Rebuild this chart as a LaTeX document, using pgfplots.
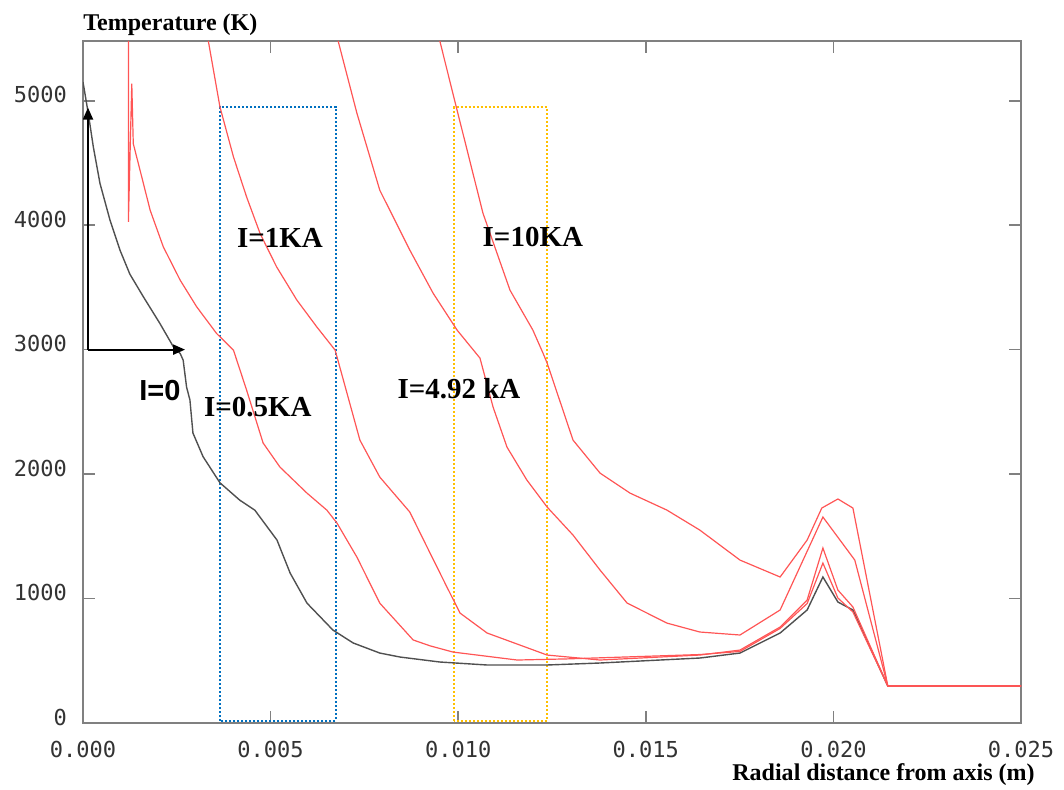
\documentclass[border=0pt]{standalone}
\usepackage{pgfplots}
\pgfplotsset{compat=1.18}
\usepackage{fontspec}
\setmainfont{Liberation Serif}
\newfontfamily\tickfont{DejaVu Sans Mono}
\newfontfamily\sansb{Liberation Sans}
\usetikzlibrary{arrows.meta}
\definecolor{curvered}{RGB}{255,85,85}
\definecolor{curveblack}{RGB}{80,80,80}
\definecolor{boxblue}{RGB}{0,112,192}
\definecolor{boxyellow}{RGB}{255,192,0}
\definecolor{axgray}{RGB}{128,128,128}
\begin{document}
\begin{tikzpicture}
\begin{axis}[
  at={(0,0)}, anchor=south west,
  scale only axis, width=469pt, height=341pt,
  xmin=0, xmax=0.025, ymin=0, ymax=5480,
  xtick={0,0.005,0.01,0.015,0.02,0.025},
  xticklabels={0.000,0.005,0.010,0.015,0.020,0.025},
  ytick={0,1000,2000,3000,4000,5000},
  yticklabels={0,1000,2000,3000,4000,5000},
  scaled x ticks=false,
  tick align=inside,
  major tick length=6pt,
  tick style={axgray, line width=0.8pt},
  axis line style={axgray, line width=1pt},
  ticklabel style={font=\tickfont\fontsize{11}{12}\selectfont, text=black!80},
  xticklabel style={yshift=-5.5pt},
  yticklabel style={xshift=-4.5pt, yshift=3pt},
  xlabel={Radial distance from axis (m)},
  xlabel style={at={(rel axis cs:1,0)}, anchor=base east, inner sep=0pt, yshift=-29pt, xshift=7pt, font=\bfseries\fontsize{12}{14}\selectfont},
  ylabel={Temperature (K)},
  ylabel style={rotate=-90, at={(rel axis cs:0,1)}, anchor=base west, inner sep=0pt, yshift=5pt, font=\bfseries\fontsize{12}{14}\selectfont},
  clip=true,
]
% dotted rectangles
\addplot[boxblue, densely dotted, line width=1pt] coordinates {
(0.00365,16) (0.00365,4948) (0.00674,4948) (0.00674,16) (0.00365,16)};
\addplot[boxyellow, densely dotted, line width=1pt] coordinates {
(0.0099,16) (0.0099,4948) (0.01236,4948) (0.01236,16) (0.0099,16)};
% I=0
\addplot[curveblack, line width=0.7pt] coordinates {
(0,5150) (0.000141,4897) (0.000275,4629) (0.000453,4335) (0.00072,4040)
(0.000986,3799) (0.00125,3606) (0.00161,3424) (0.00205,3210) (0.00241,3022)
(0.00259,2969) (0.00267,2915) (0.00276,2700) (0.00285,2595)
(0.00293,2330) (0.0032,2140) (0.00365,1930) (0.00418,1790) (0.00458,1710)
(0.00517,1470) (0.00552,1205) (0.00597,963) (0.00666,747) (0.0072,643)
(0.00791,562) (0.00845,530) (0.00951,490) (0.01077,466) (0.01237,466)
(0.01378,482) (0.01644,522) (0.01751,562) (0.01858,723) (0.0193,908)
(0.01972,1173) (0.02012,972) (0.02052,908) (0.02145,297) (0.025,297)};
% I=0.5KA
\addplot[curvered, line width=0.6pt] coordinates {
(0.00121,5480) (0.00121,4027) (0.0013,5138) (0.00134,4655) (0.00152,4442)
(0.00179,4120) (0.00214,3826) (0.00259,3558) (0.00303,3344) (0.00356,3130)
(0.00401,2996) (0.00436,2675)
(0.00480,2250) (0.00525,2056) (0.00597,1847) (0.00650,1710) (0.00677,1606)
(0.00730,1333) (0.00791,963) (0.00880,667) (0.00925,620) (0.00986,570)
(0.01157,506) (0.0129,515) (0.01644,550) (0.01751,575) (0.01858,760)
(0.0193,960) (0.01972,1285) (0.02012,1004) (0.02052,892) (0.02145,297) (0.025,297)};
% I=1KA
\addplot[curvered, line width=0.6pt] coordinates {
(0.00334,5480) (0.00365,4950) (0.00401,4549) (0.00436,4227) (0.00472,3933)
(0.00516,3665) (0.0057,3398) (0.00623,3183) (0.00672,2996)
(0.00738,2273) (0.00791,1976) (0.00871,1695)
(0.00917,1414) (0.0097,1092) (0.01005,883) (0.01077,723) (0.01237,546)
(0.01378,506) (0.01644,546) (0.01751,586) (0.01858,771) (0.0193,988)
(0.01972,1406) (0.02012,1068) (0.02052,932) (0.02145,297) (0.025,297)};
% I=4.92kA
\addplot[curvered, line width=0.6pt] coordinates {
(0.0068,5480) (0.0073,4900) (0.00791,4281) (0.00871,3800) (0.00933,3454)
(0.00997,3157) (0.01058,2932) (0.01093,2538) (0.0113,2217) (0.01183,1952)
(0.01237,1735) (0.01306,1510) (0.01378,1229) (0.0145,964) (0.01556,803)
(0.01644,731) (0.01751,707) (0.01858,908) (0.01972,1655) (0.02057,1309)
(0.02145,297) (0.025,297)};
% I=10KA
\addplot[curvered, line width=0.6pt] coordinates {
(0.00951,5480) (0.00997,4924) (0.01066,4096) (0.01138,3478) (0.01199,3157)
(0.01226,2972) (0.01237,2892) (0.01306,2273) (0.01378,2008) (0.01458,1847)
(0.01556,1711) (0.01644,1550) (0.01751,1309) (0.01858,1173) (0.0193,1470)
(0.01969,1727) (0.02012,1800) (0.02052,1727) (0.02145,297) (0.025,297)};
% arrows
\draw[black, line width=1pt, -{Triangle[length=6pt,width=5pt]}] (axis cs:0.000133,3000) -- (axis cs:0.000133,4945);
\draw[black, line width=1pt, -{Triangle[length=6pt,width=5pt]}] (axis cs:0.000133,3000) -- (axis cs:0.00272,3000);
% labels
\node[font=\bfseries\fontsize{14.5}{16}\selectfont] at (axis cs:0.00525,3896) {I=1KA};
\node[font=\bfseries\fontsize{14.5}{16}\selectfont] at (axis cs:0.01199,3903) {I=10KA};
\node[font=\bfseries\fontsize{14.5}{16}\selectfont] at (axis cs:0.01002,2690) {I=4.92 kA};
\node[font=\bfseries\fontsize{14.5}{16}\selectfont] at (axis cs:0.00466,2538) {I=0.5KA};
\node[font=\sansb\bfseries\fontsize{14.5}{16}\selectfont] at (axis cs:0.00205,2675) {I=0};
\end{axis}
\pgfresetboundingbox
\useasboundingbox (-41.5pt,-33.5pt) rectangle (490.5pt,361.5pt);
\end{tikzpicture}
\end{document}
